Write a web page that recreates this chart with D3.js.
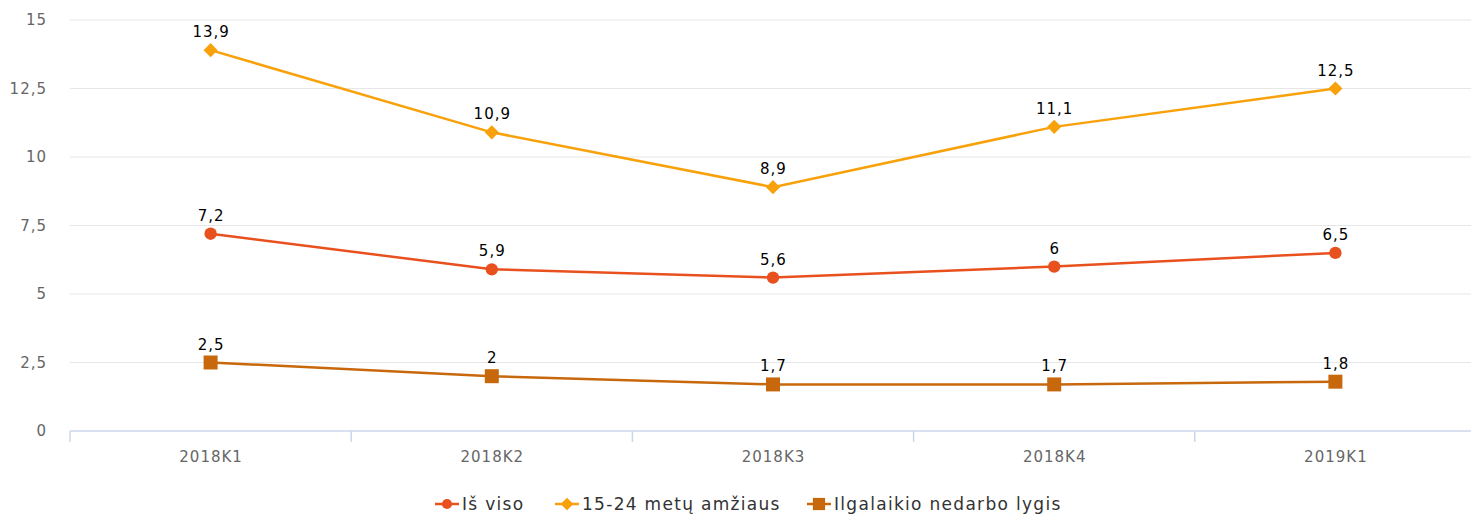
<!DOCTYPE html>
<html>
<head>
<meta charset="utf-8">
<script src="https://cdn.jsdelivr.net/npm/d3@7"></script>
<style>
  body { margin: 0; background: #fff; }
  svg { font-family: "DejaVu Sans", sans-serif; }
</style>
</head>
<body>
<div id="chart"></div>
<script>
// categories + series
const quarters = ["2018K1", "2018K2", "2018K3", "2018K4", "2019K1"]
const isViso = [7.2, 5.9, 5.6, 6, 6.5]
const jaunimas = [13.9, 10.9, 8.9, 11.1, 12.5]
const ilgalaikis = [2.5, 2, 1.7, 1.7, 1.8]
const yTicks = [0, 2.5, 5, 7.5, 10, 12.5, 15]

const seriesNames = ["Iš viso", "15-24 metų amžiaus", "Ilgalaikio nedarbo lygis"]
const seriesColors = ["#e8501d", "#f8a10a", "#c8680c"]
const seriesSymbols = [d3.symbolCircle, d3.symbolSquare, d3.symbolSquare]
const seriesRotate = [0, 45, 0]
const seriesData = [isViso, jaunimas, ilgalaikis]

const width = 1471
const height = 514
const margin = { top: 20, right: -5, bottom: 83, left: 70 }
const ls = 1 // letter spacing

const fmt = v => String(v).replace(".", ",")

const svg = d3.select("#chart")
  .append("svg")
    .attr("width", width)
    .attr("height", height)

const x = d3.scaleBand()
  .domain(quarters)
  .range([margin.left, width - margin.right])

const y = d3.scaleLinear()
  .domain([0, 15])
  .range([height - margin.bottom, margin.top])

// grid lines
svg.append("g")
  .selectAll("line")
  .data(yTicks.filter(d => d > 0))
  .join("line")
    .attr("x1", margin.left)
    .attr("x2", width)
    .attr("y1", d => y(d))
    .attr("y2", d => y(d))
    .attr("stroke", "#e6e6e6")
    .attr("stroke-width", 1)

// Y axis labels
svg.append("g")
  .selectAll("text")
  .data(yTicks)
  .join("text")
    .attr("x", 46 + ls)
    .attr("y", d => y(d) + 5)
    .attr("text-anchor", "end")
    .attr("font-size", 15)
    .attr("letter-spacing", ls)
    .attr("fill", "#666")
    .text(fmt)

// X axis
const xAxis = svg.append("g")
  .attr("transform", "translate(0," + y(0) + ")")
  .call(d3.axisBottom(x).tickSize(0).tickPadding(20))
xAxis.select(".domain").remove()
xAxis.selectAll("text")
  .attr("font-size", 15)
  .attr("letter-spacing", ls)
  .attr("dx", ls / 2)
  .attr("fill", "#666")
  .attr("font-family", "DejaVu Sans, sans-serif")

xAxis.append("line")
  .attr("x1", margin.left)
  .attr("x2", width)
  .attr("stroke", "#ccd6eb")
  .attr("stroke-width", 1.5)

xAxis.selectAll("line.band")
  .data(quarters)
  .join("line")
    .attr("class", "band")
    .attr("x1", d => x(d))
    .attr("x2", d => x(d))
    .attr("y1", 0)
    .attr("y2", 11)
    .attr("stroke", "#ccd6eb")
    .attr("stroke-width", 1.5)

const cx = d => x(d) + x.bandwidth() / 2

// lines + markers
seriesData.forEach((values, i) => {
  const pts = values.map((v, j) => ({ q: quarters[j], v: v }))
  svg.append("path")
    .datum(pts)
    .attr("fill", "none")
    .attr("stroke", seriesColors[i])
    .attr("stroke-width", 2.5)
    .attr("d", d3.line()
      .x(d => cx(d.q))
      .y(d => y(d.v)))

  const size = i === 2 ? 196 : (i === 1 ? 100 : 120)
  svg.append("g")
    .selectAll("path")
    .data(pts)
    .join("path")
      .attr("transform", d => "translate(" + cx(d.q) + "," + y(d.v) + ") rotate(" + seriesRotate[i] + ")")
      .attr("d", d3.symbol().type(seriesSymbols[i]).size(size))
      .attr("fill", seriesColors[i])

  svg.append("g")
    .selectAll("text")
    .data(pts)
    .join("text")
      .attr("x", d => cx(d.q) + ls / 2)
      .attr("y", d => y(d.v) - 13)
      .attr("text-anchor", "middle")
      .attr("font-size", 15)
      .attr("letter-spacing", ls)
      .attr("fill", "#000")
      .text(d => fmt(d.v))
})

// legend
const legendX = [435, 555, 807]
const legend = svg.append("g")
  .selectAll("g")
  .data(seriesNames)
  .join("g")
    .attr("transform", (d, i) => "translate(" + legendX[i] + "," + 504 + ")")

legend.append("line")
  .attr("x1", 0)
  .attr("x2", 24)
  .attr("stroke", (d, i) => seriesColors[i])
  .attr("stroke-width", 2.5)
legend.append("path")
  .attr("transform", (d, i) => "translate(12,0) rotate(" + seriesRotate[i] + ")")
  .attr("d", (d, i) => d3.symbol().type(seriesSymbols[i]).size(i === 2 ? 150 : 80)())
  .attr("fill", (d, i) => seriesColors[i])
legend.append("text")
  .attr("x", 27)
  .attr("y", 6)
  .attr("font-size", 17)
  .attr("letter-spacing", 1.3)
  .attr("fill", "#333")
  .text(d => d)
</script>
</body>
</html>
